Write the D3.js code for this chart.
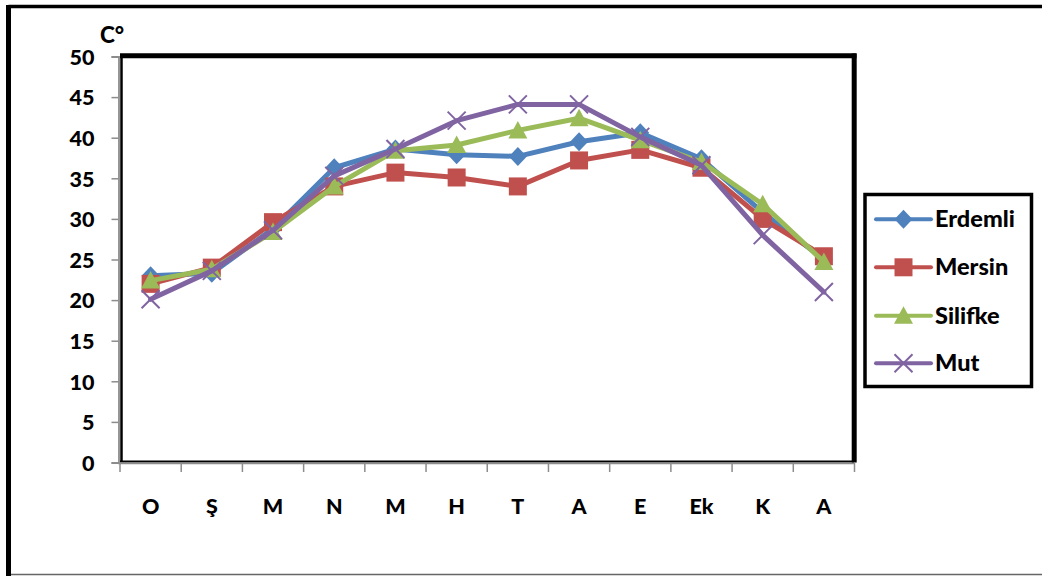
<!DOCTYPE html>
<html>
<head>
<meta charset="utf-8">
<script src="https://cdn.jsdelivr.net/npm/d3@7"></script>
<style>
  html, body { margin: 0; padding: 0; background: #fff; }
  svg { display: block; }
  text { font-family: Lato, "Open Sans", sans-serif; font-weight: 900; fill: #000; }
</style>
</head>
<body>
<svg id="chart" width="1042" height="576"></svg>
<script>
// Month initials (Ocak ... Aralık)
const months = ["O", "Ş", "M", "N", "M", "H", "T", "A", "E", "Ek", "K", "A"];
const yTicks = [0, 5, 10, 15, 20, 25, 30, 35, 40, 45, 50];
const seriesNames = ["Erdemli", "Mersin", "Silifke", "Mut"];
const erdemli = [23.0, 23.3, 28.8, 36.3, 38.6, 37.9, 37.7, 39.5, 40.6, 37.4, 30.8, 25.0];
const mersin  = [22.0, 24.0, 29.6, 34.0, 35.7, 35.1, 34.0, 37.2, 38.5, 36.3, 30.0, 25.4];
const silifke = [22.4, 23.8, 28.4, 34.0, 38.4, 39.1, 40.9, 42.4, 39.7, 37.0, 31.8, 24.7];
const mut     = [20.1, 23.6, 28.6, 35.3, 38.6, 42.1, 44.1, 44.1, 40.1, 36.6, 28.0, 21.0];

const colors = ["#4F81BD", "#C0504D", "#9BBB59", "#8064A2"];
const markers = ["diamond", "square", "triangle", "cross"];
const seriesValues = [erdemli, mersin, silifke, mut];

const svg = d3.select("#chart");

// outer frame
svg.append("line").attr("x1", 8.5).attr("x2", 1042).attr("y1", 6.5).attr("y2", 6.5)
  .attr("stroke", "#000").attr("stroke-width", 3.5);
svg.append("line").attr("x1", 8.5).attr("x2", 8.5).attr("y1", 5).attr("y2", 576)
  .attr("stroke", "#000").attr("stroke-width", 5);
svg.append("line").attr("x1", 11).attr("x2", 1042).attr("y1", 574.5).attr("y2", 574.5)
  .attr("stroke", "#666").attr("stroke-width", 1.5);

const plot = { left: 120, right: 854.5, top: 56.5, bottom: 462.5 };

const x = d3.scaleBand().domain(d3.range(months.length))
  .range([plot.left, plot.right]).paddingInner(0).paddingOuter(0);
const y = d3.scaleLinear().domain([0, 50]).range([plot.bottom, plot.top]);

// plot area border: thin left/bottom, heavy top/right
const frame = svg.append("g");
frame.append("line").attr("x1", 121.5).attr("x2", 121.5).attr("y1", 56).attr("y2", 462)
  .attr("stroke", "#000").attr("stroke-width", 2.5);
frame.append("line").attr("x1", 120).attr("x2", 854).attr("y1", 461.5).attr("y2", 461.5)
  .attr("stroke", "#000").attr("stroke-width", 2);
frame.append("line").attr("x1", 120).attr("x2", 856.5).attr("y1", 55.8).attr("y2", 55.8)
  .attr("stroke", "#000").attr("stroke-width", 5);
frame.append("line").attr("x1", 854.2).attr("x2", 854.2).attr("y1", 53.5).attr("y2", 462.5)
  .attr("stroke", "#000").attr("stroke-width", 5);

// y axis
const yAxis = svg.append("g").attr("transform", "translate(118.5,0)")
  .call(d3.axisLeft(y).tickValues(yTicks).tickSize(7).tickPadding(17).tickFormat(d3.format("d")));
yAxis.select(".domain").attr("stroke", "#8c8c8c").attr("stroke-width", 1.8);
yAxis.selectAll(".tick line").attr("stroke", "#8c8c8c").attr("stroke-width", 1.5);
yAxis.selectAll("text").attr("font-size", 21.5).attr("fill", "#000")
  .attr("font-family", "Lato, sans-serif").attr("font-weight", 900).attr("dy", "0.36em");

// x axis: tick marks on band edges, labels at band centres
const xEdges = d3.range(months.length + 1).map(i => plot.left + i * x.bandwidth());
const xAxisG = svg.append("g");
xAxisG.append("line").attr("x1", 118).attr("x2", plot.right).attr("y1", 463.5).attr("y2", 463.5)
  .attr("stroke", "#8c8c8c").attr("stroke-width", 1.5);
xAxisG.selectAll(".xt").data(xEdges).join("line").attr("class", "xt")
  .attr("x1", d => d).attr("x2", d => d).attr("y1", 463).attr("y2", 472)
  .attr("stroke", "#8c8c8c").attr("stroke-width", 1.5);
xAxisG.selectAll(".xl").data(months).join("text").attr("class", "xl")
  .attr("x", (d, i) => x(i) + x.bandwidth() / 2).attr("y", 514)
  .attr("text-anchor", "middle").attr("font-size", 21.5).text(d => d);

// unit label
svg.append("text").attr("x", 100).attr("y", 43.3).attr("font-size", 22.5).text("C°");

// marker shapes
function markerPath(type) {
  switch (type) {
    case "diamond": return "M0,-9.5L9,0L0,9.5L-9,0Z";
    case "square": return "M-9,-9H9V9H-9Z";
    case "triangle": return "M0,-9.5L9.5,8L-9.5,8Z";
    case "cross": return "M-9,-9L9,9M-9,9L9,-9";
  }
}
function drawMarker(g, type, color) {
  const p = g.append("path").attr("d", markerPath(type));
  if (type === "cross") p.attr("fill", "none").attr("stroke", color).attr("stroke-width", 2);
  else p.attr("fill", color).attr("stroke", "none");
}

const line = d3.line().x((d, i) => x(i) + x.bandwidth() / 2).y(d => y(d));

seriesValues.forEach((vals, s) => {
  const g = svg.append("g").attr("class", "series");
  g.append("path").datum(vals).attr("d", line).attr("fill", "none")
    .attr("stroke", colors[s]).attr("stroke-width", 5).attr("stroke-linejoin", "round")
    .attr("stroke-linecap", "round");
  vals.forEach((v, i) => {
    const m = g.append("g").attr("transform", `translate(${x(i) + x.bandwidth() / 2},${y(v)})`);
    drawMarker(m, markers[s], colors[s]);
  });
});

// legend
const legend = svg.append("g");
legend.append("rect").attr("x", 865).attr("y", 194.5).attr("width", 166.5).attr("height", 192)
  .attr("fill", "#fff").attr("stroke", "#000").attr("stroke-width", 3.5);
const legendY = [219.3, 267.3, 315.7, 363.3];
seriesNames.forEach((name, s) => {
  const row = legend.append("g").attr("transform", `translate(0,${legendY[s]})`);
  row.append("line").attr("x1", 876).attr("x2", 931).attr("y1", 0).attr("y2", 0)
    .attr("stroke", colors[s]).attr("stroke-width", 4).attr("stroke-linecap", "round");
  const m = row.append("g").attr("transform", "translate(903.5,0)");
  drawMarker(m, markers[s], colors[s]);
  row.append("text").attr("x", 935).attr("y", 8).attr("font-size", 23.5).text(name);
});
</script>
</body>
</html>
